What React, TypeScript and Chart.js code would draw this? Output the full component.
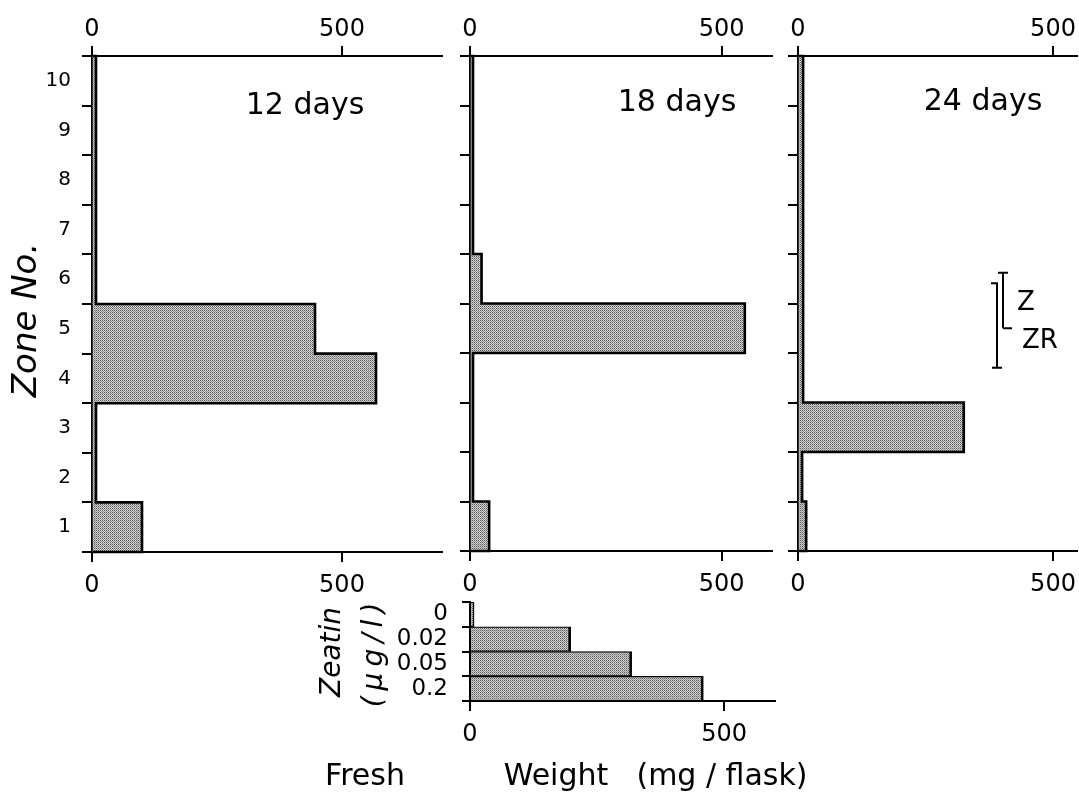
import React, { useEffect, useRef } from 'react';
import { Chart, registerables } from 'chart.js';

Chart.register(...registerables);

const FONT = '"DejaVu Sans", sans-serif';

// Zones listed top to bottom (zone 10 ... zone 1)
const zoneLabels = ['10', '9', '8', '7', '6', '5', '4', '3', '2', '1'];
const day12 = [8, 8, 8, 8, 8, 446, 568, 8, 8, 100];
const day18 = [6, 6, 6, 6, 23, 546, 6, 6, 6, 38];
const day24 = [10, 10, 10, 10, 10, 10, 10, 325, 8, 16];

const zeatinLabels = ['0', '0.02', '0.05', '0.2'];
const zeatinWeights = [8, 198, 318, 459];

const weightTicks = [0, 500];
const panelTitles = ['12 days', '18 days', '24 days'];

// zone ranges (in zone units from bottom) for the Z / ZR markers
const zBracket = [4.5, 5.62];
const zrBracket = [3.7, 5.41];

type TextItem = { t: string; x: number; y: number; size: number; italic?: boolean; rot?: boolean; spacing?: number };

const decorPlugin = {
  id: 'decor',
  afterDatasetsDraw(chart: any, _a: any, opts: any) {
    if (!opts || !opts.outline) return;
    const ctx = chart.ctx;
    const meta = chart.getDatasetMeta(0);
    const n = meta.data.length;
    ctx.save();
    ctx.strokeStyle = '#000';
    ctx.lineWidth = 2.6;
    ctx.lineJoin = 'miter';
    ctx.beginPath();
    meta.data.forEach((bar: any, i: number) => {
      const p = bar.getProps(['x', 'y', 'base', 'height'], true);
      const top = p.y - p.height / 2;
      const bot = p.y + p.height / 2;
      if (i === 0) ctx.moveTo(p.base, top);
      ctx.lineTo(p.x, top);
      ctx.lineTo(p.x, bot);
      if (i === n - 1) ctx.lineTo(p.base, bot);
    });
    ctx.stroke();
    ctx.restore();
  },
  afterDraw(chart: any, _a: any, opts: any) {
    if (!opts) return;
    const ctx = chart.ctx;
    const [ox, oy] = opts.origin || [0, 0];
    ctx.save();
    if (opts.brackets) {
      const ca = chart.chartArea;
      const yv = (v: number) => ca.bottom - (v / zoneLabels.length) * (ca.bottom - ca.top);
      ctx.strokeStyle = '#000';
      ctx.lineWidth = 2;
      for (const b of opts.brackets) {
        const x = b.x - ox;
        const yTop = yv(b.range[1]);
        const yBot = yv(b.range[0]);
        ctx.beginPath();
        ctx.moveTo(x, yTop);
        ctx.lineTo(x, yBot);
        ctx.moveTo(b.top[0] - ox, yTop);
        ctx.lineTo(b.top[1] - ox, yTop);
        ctx.moveTo(b.bot[0] - ox, yBot);
        ctx.lineTo(b.bot[1] - ox, yBot);
        ctx.stroke();
      }
    }
    const texts: TextItem[] = opts.texts || [];
    ctx.fillStyle = '#000';
    ctx.textAlign = 'center';
    ctx.textBaseline = 'middle';
    for (const it of texts) {
      ctx.save();
      ctx.font = `${it.italic ? 'italic ' : ''}${it.size}px ${FONT}`;
      (ctx as any).letterSpacing = `${it.spacing || 0}px`;
      ctx.translate(it.x - ox, it.y - oy);
      if (it.rot) ctx.rotate(-Math.PI / 2);
      ctx.fillText(it.t, 0, 0);
      ctx.restore();
    }
    ctx.restore();
  },
};

function xScale(max: number, position: string, height: number, pad: number) {
  return {
    type: 'linear',
    position,
    min: 0,
    max,
    z: 1,
    afterBuildTicks: (s: any) => {
      s.ticks = weightTicks.map((v) => ({ value: v }));
    },
    afterFit: (s: any) => {
      s.height = height;
      s.paddingLeft = 0;
      s.paddingRight = 0;
    },
    grid: { drawOnChartArea: false, drawTicks: true, tickLength: 10, color: '#000', lineWidth: 2 },
    border: { display: true, color: '#000', width: 2 },
    ticks: { color: '#000', font: { family: FONT, size: 24 }, padding: pad, maxRotation: 0, autoSkip: false },
  };
}

function yScale(width: number, showLabels: boolean, size: number, pad: number, tickLen: number) {
  return {
    type: 'category',
    offset: true,
    z: 1,
    afterFit: (s: any) => {
      s.width = width;
      s.paddingTop = 0;
      s.paddingBottom = 0;
    },
    grid: { drawOnChartArea: false, drawTicks: true, tickLength: tickLen, color: '#000', lineWidth: 2, offset: true },
    border: { display: true, color: '#000', width: 2 },
    ticks: { display: showLabels, color: '#000', font: { family: FONT, size }, padding: pad, autoSkip: false },
  };
}

type PanelSpec = {
  left: number;
  top: number;
  width: number;
  height: number;
  labels: string[];
  values: number[];
  max: number;
  yWidth: number;
  yLabels: boolean;
  yFont: number;
  yPad: number;
  yTick: number;
  topAxis: boolean;
  topH: number;
  botH: number;
  padTop: number;
  padRight: number;
  outline: boolean;
  texts: TextItem[];
  brackets?: any[];
};

const specs: PanelSpec[] = [
  {
    left: 0, top: 0, width: 460, height: 596,
    labels: zoneLabels, values: day12, max: 700,
    yWidth: 92, yLabels: true, yFont: 20, yPad: 11, yTick: 10,
    topAxis: true, topH: 56, botH: 44, padTop: 0, padRight: 18, outline: true,
    texts: [
      { t: 'Zone No.', x: 27, y: 320, size: 34, italic: true, rot: true },
      { t: panelTitles[0], x: 305, y: 106, size: 30 },
    ],
  },
  {
    left: 460, top: 0, width: 320, height: 596,
    labels: zoneLabels, values: day18, max: 600,
    yWidth: 10, yLabels: false, yFont: 20, yPad: 11, yTick: 10,
    topAxis: true, topH: 56, botH: 45, padTop: 0, padRight: 8, outline: true,
    texts: [{ t: panelTitles[1], x: 677, y: 103, size: 30 }],
  },
  {
    left: 780, top: 0, width: 299, height: 596,
    labels: zoneLabels, values: day24, max: 547,
    yWidth: 18, yLabels: false, yFont: 20, yPad: 11, yTick: 10,
    topAxis: true, topH: 56, botH: 45, padTop: 0, padRight: 2, outline: true,
    texts: [
      { t: panelTitles[2], x: 983, y: 102, size: 30 },
      { t: 'Z', x: 1026, y: 303, size: 26 },
      { t: 'ZR', x: 1040, y: 341, size: 26 },
    ],
    brackets: [
      { x: 1003, range: zBracket, top: [998, 1008], bot: [1003, 1012] },
      { x: 997, range: zrBracket, top: [991, 998], bot: [992, 1002] },
    ],
  },
  {
    left: 300, top: 590, width: 520, height: 204,
    labels: zeatinLabels, values: zeatinWeights, max: 600,
    yWidth: 170, yLabels: true, yFont: 23, yPad: 14, yTick: 8,
    topAxis: false, topH: 0, botH: 93, padTop: 12, padRight: 45, outline: false,
    texts: [
      { t: 'Zeatin', x: 333, y: 652, size: 28, italic: true, rot: true },
      { t: '(µg/l)', x: 375, y: 652, size: 28, italic: true, rot: true, spacing: 6 },
      { t: 'Fresh', x: 365, y: 777, size: 30 },
      { t: 'Weight', x: 556, y: 777, size: 30 },
      { t: '(mg / flask)', x: 722, y: 777, size: 30 },
    ],
  },
];

function makePattern(): any {
  const c = document.createElement('canvas');
  c.width = 2;
  c.height = 2;
  const g = c.getContext('2d');
  if (!g) return '#a8a8a8';
  g.fillStyle = '#d0d0d0';
  g.fillRect(0, 0, 2, 2);
  g.fillStyle = '#5c5c5c';
  g.fillRect(0, 0, 1, 1);
  g.fillStyle = '#909090';
  g.fillRect(1, 1, 1, 1);
  return g.createPattern(c, 'repeat') || '#a8a8a8';
}

export default function App() {
  const refs = useRef<(HTMLCanvasElement | null)[]>([]);

  useEffect(() => {
    const fill = makePattern();
    const charts: Chart[] = [];
    specs.forEach((s, i) => {
      const canvas = refs.current[i];
      if (!canvas) return;
      const scales: any = {
        x: xScale(s.max, 'bottom', s.botH, 9),
        y: yScale(s.yWidth, s.yLabels, s.yFont, s.yPad, s.yTick),
      };
      if (s.topAxis) scales.xTop = xScale(s.max, 'top', s.topH, 2);
      const cfg: any = {
        type: 'bar',
        data: {
          labels: s.labels,
          datasets: [
            {
              data: s.values,
              backgroundColor: fill,
              borderColor: '#000',
              borderWidth: s.outline ? 0 : { top: 1.3, bottom: 1.3, right: 2.6, left: 0 },
              borderSkipped: false,
              barPercentage: 1,
              categoryPercentage: 1,
              xAxisID: 'x',
              yAxisID: 'y',
            },
          ],
        },
        options: {
          indexAxis: 'y',
          responsive: false,
          maintainAspectRatio: false,
          animation: false,
          events: [],
          layout: { padding: { top: s.padTop, right: s.padRight, left: 0, bottom: 0 } },
          plugins: {
            legend: { display: false },
            tooltip: { enabled: false },
            decor: { origin: [s.left, s.top], outline: s.outline, texts: s.texts, brackets: s.brackets },
          },
          scales,
        },
        plugins: [decorPlugin],
      };
      charts.push(new Chart(canvas, cfg));
    });
    return () => charts.forEach((c) => c.destroy());
  }, []);

  return (
    <div style={{ position: 'fixed', left: 0, top: 0, width: 1079, height: 794, background: '#fff', overflow: 'hidden' }}>
      {specs.map((s, i) => (
        <canvas
          key={i}
          ref={(el) => {
            refs.current[i] = el;
          }}
          width={s.width}
          height={s.height}
          style={{ position: 'absolute', left: s.left, top: s.top, width: s.width, height: s.height }}
        />
      ))}
    </div>
  );
}
